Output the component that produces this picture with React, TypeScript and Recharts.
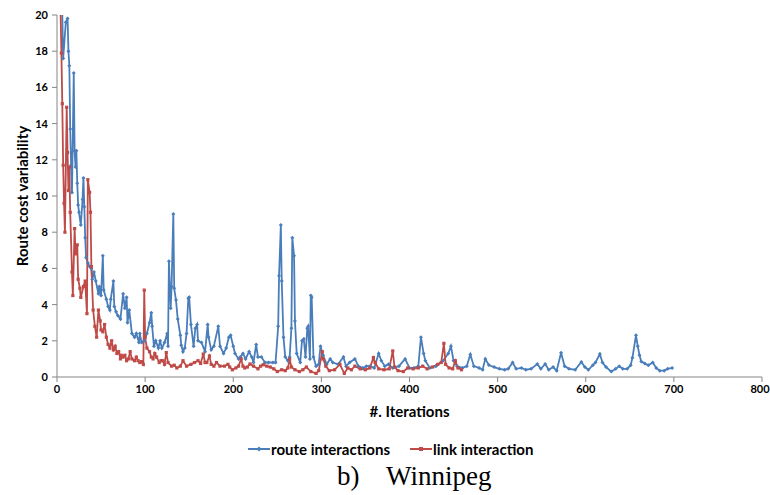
import { LineChart, Line, XAxis, YAxis } from "recharts";

// iteration / route cost variability
const routePoints: [number, number][] = [
  [4, 25], [7, 17.6], [10, 19.6], [12, 19.8], [13, 18.0], [14, 17.2], [15, 13.7], [16, 11.7],
  [17, 10.2], [19, 16.8], [20, 12.5], [21, 11.6], [22, 12.5], [23, 10.7], [24, 9.5], [25, 9.1],
  [27, 8.4], [29, 9.8], [30, 11.0], [31, 9.4], [32, 7.7], [33, 6.6], [35, 6.3], [37, 6.1],
  [39, 6.0], [40, 5.4], [42, 5.8], [44, 5.3], [47, 4.6], [48, 5.0], [50, 4.5], [52, 6.7],
  [53, 4.8], [56, 4.3], [58, 3.9], [60, 3.7], [61, 4.3], [64, 5.3], [65, 3.9], [67, 3.6],
  [69, 3.4], [72, 3.2], [75, 4.6], [77, 3.8], [79, 4.4], [80, 3.0], [82, 3.7], [85, 2.4],
  [88, 2.2], [90, 2.4], [93, 1.9], [94, 2.4], [96, 1.9], [99, 2.0], [102, 2.4], [105, 3.0],
  [107, 3.55], [108, 2.8], [110, 1.7], [112, 2.0], [115, 1.6], [117, 2.0], [119, 1.6], [122, 1.9],
  [125, 2.4], [126, 1.7], [127, 6.4], [129, 3.8], [130, 5.0], [132, 9.0], [133, 4.9], [135, 4.25],
  [137, 3.2], [140, 2.3], [141, 1.75], [143, 1.4], [145, 1.6], [147, 2.4], [149, 4.35], [150, 4.4],
  [152, 2.9], [155, 1.7], [157, 2.7], [159, 2.9], [160, 2.0], [164, 1.9], [168, 1.4], [171, 2.9],
  [172, 2.2], [175, 1.5], [178, 1.7], [183, 2.8], [185, 1.7], [189, 1.3], [192, 1.6], [195, 2.2],
  [197, 2.3], [200, 1.7], [202, 1.3], [206, 1.0], [208, 1.1], [211, 1.3], [214, 1.0], [218, 1.4],
  [221, 1.1], [223, 0.8], [226, 1.8], [228, 1.1], [232, 1.1], [236, 0.8], [240, 0.8], [245, 0.8],
  [248, 0.8], [251, 2.8], [252, 5.6], [254, 8.4], [255, 5.3], [257, 2.2], [259, 1.1], [262, 0.9],
  [264, 1.1], [266, 2.7], [267, 7.7], [269, 6.7], [270, 3.1], [272, 1.3], [276, 0.8], [278, 2.0],
  [280, 2.1], [282, 1.1], [284, 2.7], [285, 2.8], [287, 1.0], [288, 4.5], [289, 4.4], [291, 1.1],
  [294, 0.6], [297, 0.7], [299, 1.7], [302, 1.2], [306, 0.7], [310, 1.0], [313, 0.8], [319, 0.7],
  [325, 1.1], [328, 0.6], [332, 0.8], [338, 1.0], [342, 0.6], [347, 0.5], [351, 0.6], [355, 0.6],
  [360, 0.5], [365, 1.3], [368, 0.9], [372, 0.6], [376, 0.7], [381, 0.5], [388, 0.6], [395, 1.0],
  [400, 0.5], [405, 0.5], [410, 0.6], [413, 2.2], [416, 1.3], [418, 0.9], [423, 0.5], [430, 0.6],
  [438, 0.9], [444, 1.3], [447, 1.7], [450, 0.9], [454, 0.6], [460, 0.5], [465, 0.6], [469, 1.25],
  [473, 0.6], [479, 0.5], [483, 0.4], [486, 1.0], [490, 0.66], [496, 0.55], [502, 0.45], [508, 0.4],
  [512, 0.45], [517, 0.8], [521, 0.45], [527, 0.5], [532, 0.4], [538, 0.45], [545, 0.72], [549, 0.45],
  [554, 0.72], [558, 0.4], [563, 0.55], [567, 0.35], [572, 1.34], [576, 0.6], [581, 0.45], [588, 0.4],
  [595, 0.83], [599, 0.55], [603, 0.4], [608, 0.65], [611, 0.8], [616, 1.27], [619, 0.8], [623, 0.55],
  [629, 0.3], [634, 0.45], [638, 0.6], [642, 0.45], [647, 0.45], [651, 0.65], [653, 1.07], [657, 2.3],
  [659, 1.7], [661, 1.2], [663, 0.85], [667, 0.75], [671, 0.65], [676, 0.8], [680, 0.5], [684, 0.35],
  [689, 0.35], [693, 0.45], [698, 0.5],
];

const linkPoints: [number, number][] = [
  [2, 25], [5, 17.9], [6, 15.1], [7, 11.7], [8, 9.6], [9, 8.0], [11, 14.9], [12, 12.4],
  [13, 10.3], [14, 11.6], [15, 9.1], [17, 5.8], [18, 4.5], [20, 8.2], [21, 6.8], [23, 7.3],
  [24, 5.4], [26, 4.9], [27, 4.4], [30, 5.0], [32, 5.3], [34, 3.5], [35, 10.9], [37, 10.2],
  [38, 9.1], [39, 6.1], [41, 3.7], [43, 2.8], [45, 2.2], [47, 3.7], [49, 3.1], [50, 2.6],
  [52, 2.5], [54, 2.9], [56, 2.2], [58, 1.8], [60, 1.6], [62, 2.0], [64, 1.5], [66, 1.7],
  [68, 1.3], [70, 1.4], [72, 1.0], [73, 1.2], [75, 1.1], [77, 1.2], [79, 0.9], [81, 1.0],
  [83, 1.4], [85, 1.0], [88, 0.9], [90, 1.1], [92, 0.9], [94, 0.8], [96, 0.85], [98, 0.7],
  [99, 4.8], [100, 2.2], [102, 1.6], [105, 1.4], [107, 1.1], [109, 1.0], [111, 1.3], [113, 1.1],
  [116, 0.8], [118, 0.9], [120, 0.9], [122, 0.7], [124, 1.35], [126, 0.8], [130, 0.6], [133, 0.65],
  [136, 0.5], [140, 0.6], [143, 0.9], [147, 0.6], [152, 0.7], [156, 0.8], [160, 0.9], [163, 0.75],
  [166, 1.27], [168, 0.8], [170, 0.8], [173, 1.16], [175, 0.7], [178, 0.6], [181, 0.8], [185, 0.6],
  [190, 0.6], [194, 0.7], [196, 0.55], [199, 0.4], [203, 0.5], [206, 0.6], [209, 1.0], [211, 0.6],
  [213, 0.5], [216, 0.55], [219, 0.72], [223, 0.6], [228, 0.45], [231, 0.6], [234, 0.68], [238, 0.6],
  [242, 0.55], [246, 0.45], [250, 0.3], [255, 0.4], [259, 0.35], [262, 0.5], [264, 0.98], [266, 0.55],
  [270, 0.4], [275, 0.3], [279, 0.4], [283, 0.55], [288, 0.3], [294, 0.2], [297, 0.35], [301, 1.4],
  [302, 1.0], [305, 0.6], [309, 0.35], [315, 0.4], [321, 0.7], [326, 0.2], [330, 0.5], [334, 0.4],
  [338, 0.6], [344, 0.45], [350, 0.4], [355, 0.5], [359, 1.07], [361, 0.8], [365, 0.45], [371, 0.4],
  [377, 0.45], [381, 1.44], [383, 0.55], [387, 0.35], [393, 0.3], [398, 0.5], [404, 0.45], [410, 0.5],
  [415, 0.6], [420, 0.45], [426, 0.55], [432, 0.7], [436, 0.8], [439, 1.86], [441, 0.7], [445, 0.5],
  [449, 0.45], [452, 0.9], [455, 0.5], [459, 0.4],
];

const xTicks = [0, 100, 200, 300, 400, 500, 600, 700, 800];
const yTicks = [0, 2, 4, 6, 8, 10, 12, 14, 16, 18, 20];

const BLUE = "#4a7ebb";
const RED = "#be4b48";
const AXIS = "#868686";
const FONT = "Lato, 'Open Sans', sans-serif";

const routeData = routePoints.map(([x, v]) => ({ x, v }));
const linkData = linkPoints.map(([x, v]) => ({ x, v }));

const BlueDot = (p: any) => {
  const { cx, cy } = p;
  if (cx == null || cy == null) return null;
  return (
    <path
      key={p.key ?? `b${p.index}`}
      d={`M${cx},${cy - 2}L${cx + 2},${cy}L${cx},${cy + 2}L${cx - 2},${cy}Z`}
      fill={BLUE}
    />
  );
};

const RedDot = (p: any) => {
  const { cx, cy } = p;
  if (cx == null || cy == null) return null;
  return <rect key={p.key ?? `r${p.index}`} x={cx - 1.6} y={cy - 1.6} width={3.2} height={3.2} fill={RED} />;
};

const tickStyle = { fill: "#000", fontSize: 11, fontWeight: 700, fontFamily: FONT };
const titleStyle = { fontSize: 15, fontWeight: 700, fontFamily: FONT, fill: "#000" };

// x tick label; the last one is nudged left so it stays inside the page
const XTick = (props: any) => {
  const { x, y, payload } = props;
  const last = payload.value === xTicks[xTicks.length - 1];
  return (
    <text
      x={last ? x - 2 : x}
      y={y}
      dy="0.71em"
      textAnchor="middle"
      style={tickStyle}
    >
      {payload.value}
    </text>
  );
};

const YTitle = (props: any) => {
  const vb = props.viewBox || {};
  const cx = 22;
  const cy = (vb.y ?? 0) + (vb.height ?? 0) / 2;
  return (
    <text
      x={cx}
      y={cy}
      transform={`rotate(-90, ${cx}, ${cy})`}
      textAnchor="middle"
      dominantBaseline="central"
      style={titleStyle}
    >
      Route cost variability
    </text>
  );
};

const XTitle = (props: any) => {
  const vb = props.viewBox || {};
  const cx = (vb.x ?? 0) + (vb.width ?? 0) / 2;
  return (
    <text x={cx} y={411} textAnchor="middle" dominantBaseline="central" style={titleStyle}>
      #. Iterations
    </text>
  );
};

function LegendItem({ color, label, square }: { color: string; label: string; square?: boolean }) {
  return (
    <span style={{ display: "inline-flex", alignItems: "center" }}>
      <svg width={22} height={10} style={{ marginRight: 1 }}>
        <line x1={0} y1={5} x2={22} y2={5} stroke={color} strokeWidth={2} />
        {square ? (
          <rect x={9} y={3} width={4} height={4} fill={color} />
        ) : (
          <path d="M11,2.5L13.5,5L11,7.5L8.5,5Z" fill={color} />
        )}
      </svg>
      <span>{label}</span>
    </span>
  );
}

export default function App() {
  return (
    <div style={{ position: "relative", width: 770, height: 495 }}>
      <style>{`body{margin:0;overflow:hidden}.recharts-surface{overflow:visible}`}</style>
      <LineChart
        width={770}
        height={495}
        margin={{ top: 15, right: 8, bottom: 73, left: 17 }}
      >
        <XAxis
          dataKey="x"
          type="number"
          domain={[0, 800]}
          ticks={xTicks}
          interval={0}
          allowDataOverflow
          stroke={AXIS}
          tickSize={5}
          tickMargin={3}
          tick={<XTick />}
          height={45}
          label={<XTitle />}
        />
        <YAxis
          type="number"
          domain={[0, 20]}
          ticks={yTicks}
          allowDataOverflow
          stroke={AXIS}
          tickSize={5}
          tickMargin={4}
          tick={tickStyle}
          width={40}
          label={<YTitle />}
        />
        <Line
          data={routeData}
          dataKey="v"
          stroke={BLUE}
          strokeWidth={1.8}
          dot={<BlueDot />}
          isAnimationActive={false}
        />
        <Line
          data={linkData}
          dataKey="v"
          stroke={RED}
          strokeWidth={1.8}
          dot={<RedDot />}
          isAnimationActive={false}
        />
      </LineChart>
      <div
        style={{
          position: "absolute",
          top: 440,
          left: 248,
          display: "flex",
          gap: 20,
          fontFamily: FONT,
          fontWeight: 700,
          fontSize: 15,
          color: "#000",
          whiteSpace: "nowrap",
        }}
      >
        <LegendItem color={BLUE} label="route interactions" />
        <LegendItem color={RED} label="link interaction" square />
      </div>
      <div
        style={{
          position: "absolute",
          top: 461,
          left: 337,
          fontFamily: "'Liberation Serif', 'Times New Roman', serif",
          fontSize: 27,
          color: "#000",
          whiteSpace: "pre",
        }}
      >
        {"b)    Winnipeg"}
      </div>
    </div>
  );
}
